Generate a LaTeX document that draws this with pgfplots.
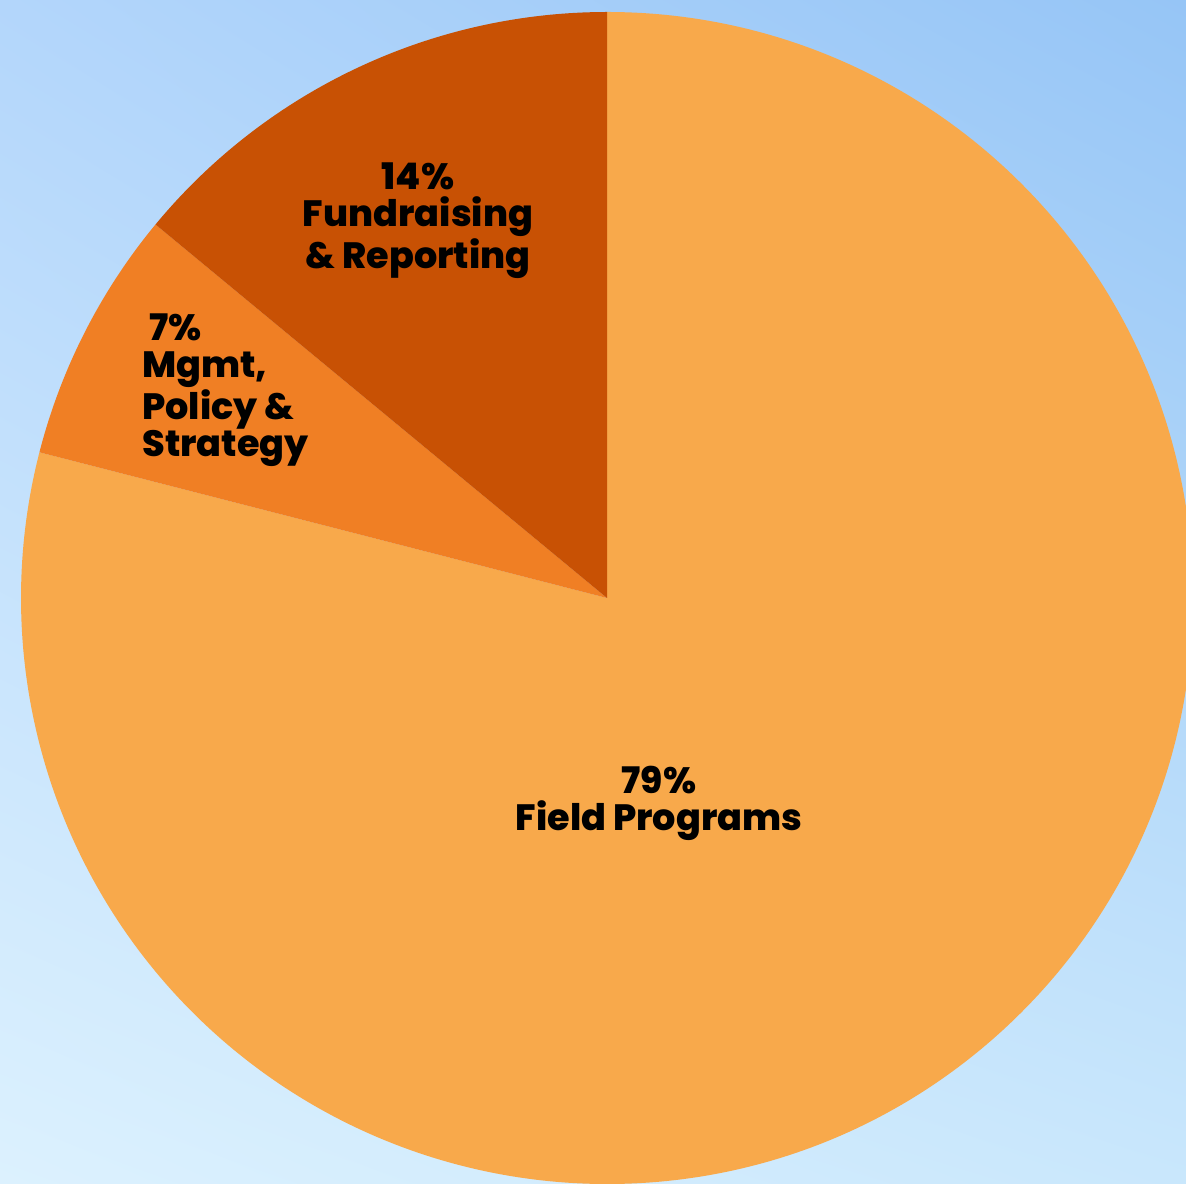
\documentclass[border=0pt]{standalone}
\usepackage{pgfplots}
\pgfplotsset{compat=1.18}
\usepackage{pgfplotstable}
\usetikzlibrary{shadings}
\usepackage{fontspec}
\setmainfont{Poppins}[BoldFont={Poppins ExtraBold}]

\definecolor{fieldc}{HTML}{F8A94B}
\definecolor{mgmtc}{HTML}{F07F24}
\definecolor{fundc}{HTML}{C85104}
\definecolor{bgul}{HTML}{B3D6FB}
\definecolor{bgur}{HTML}{96C5F6}
\definecolor{bgll}{HTML}{DCF1FE}
\definecolor{bglr}{HTML}{C9E7FC}

% shares in percent, clockwise from 12 o'clock
\pgfplotstableread{
share
79
7
14
}\sharetable

\begin{document}
\begin{tikzpicture}
\pgfplotstablegetelem{0}{share}\of\sharetable \pgfmathsetmacro\sA{\pgfplotsretval}
\pgfplotstablegetelem{1}{share}\of\sharetable \pgfmathsetmacro\sB{\pgfplotsretval}
\pgfplotstablegetelem{2}{share}\of\sharetable \pgfmathsetmacro\sC{\pgfplotsretval}
\pgfmathsetmacro\aA{90-3.6*\sA}
\pgfmathsetmacro\aB{\aA-3.6*\sB}
\pgfmathsetmacro\aC{\aB-3.6*\sC}
\begin{axis}[
  scale only axis,
  width=593pt, height=591.5pt,
  xmin=0, xmax=1186, ymin=0, ymax=1183,
  hide axis,
]
\shade[upper left=bgul, upper right=bgur, lower left=bgll, lower right=bglr]
  (axis cs:0,0) rectangle (axis cs:1186,1183);
\fill[fieldc] (axis cs:607,585) -- ++(90:293pt) arc[start angle=90, end angle=\aA, radius=293pt] -- cycle;
\fill[mgmtc] (axis cs:607,585) -- ++(\aA:293pt) arc[start angle=\aA, end angle=\aB, radius=293pt] -- cycle;
\fill[fundc] (axis cs:607,585) -- ++(\aB:293pt) arc[start angle=\aB, end angle=\aC, radius=293pt] -- cycle;
\node[align=center, font=\bfseries\fontsize{18.3}{18.6}\selectfont] at (axis cs:659,380) {79\%\\Field Programs};
\node[align=center, font=\bfseries\fontsize{18.3}{18.6}\selectfont] at (axis cs:418,962) {14\%\\Fundraising\\\& Reporting};
\node[align=left, anchor=west, inner sep=0pt, font=\bfseries\fontsize{18.3}{18.6}\selectfont] at (axis cs:142,793) {\ 7\%\\Mgmt,\\Policy \&\\Strategy};
\end{axis}
\end{tikzpicture}
\end{document}
